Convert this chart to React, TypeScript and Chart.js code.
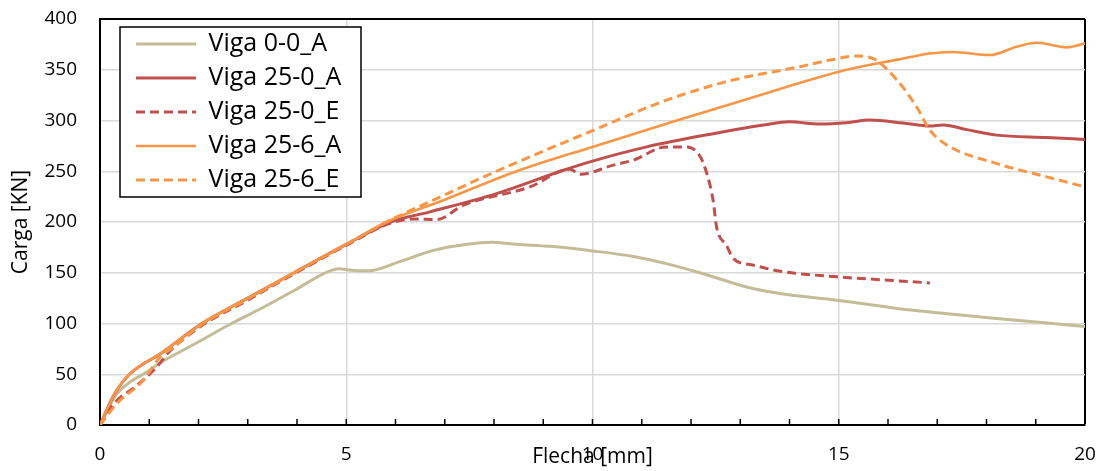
import React, { useEffect, useRef } from 'react';
import { Chart, registerables } from 'chart.js';

Chart.register(...registerables);

const FONT = "'Open Sans', 'DejaVu Sans', sans-serif";

// Series names (legend order)
const seriesLabels = ['Viga 0-0_A', 'Viga 25-0_A', 'Viga 25-0_E', 'Viga 25-6_A', 'Viga 25-6_E'];
const seriesColors = ['#C4BC96', '#C0504D', '#C0504D', '#F79646', '#F79646'];

// Axis ticks
const xTickValues = [0, 5, 10, 15, 20];
const yTickValues = [0, 50, 100, 150, 200, 250, 300, 350, 400];

// Viga 0-0_A
const x00A = [0, 0.3, 0.6, 0.91, 1.25, 1.93, 2.67, 3.28, 3.96, 4.63, 4.85, 5.1, 5.45, 6.09, 6.77, 7.45, 7.95, 8.46, 9.14, 10.0, 10.83, 11.5, 12.25, 13.13, 13.81, 14.96, 16.51, 17.87, 20];
const y00A = [0, 28, 42, 51, 62, 80, 100, 115, 133, 151, 154, 152.5, 152, 161, 172, 178, 180, 178, 176, 171.5, 166, 159, 149, 136, 129.5, 123, 113, 106.5, 97];

// Viga 25-0_A
const x250A = [0, 0.3, 0.6, 1.25, 2.07, 3.0, 3.94, 5.0, 5.9, 6.7, 8.05, 9.41, 10.0, 11.1, 12.45, 13.47, 14.0, 14.62, 15.16, 15.63, 16.3, 16.85, 17.12, 17.6, 18.2, 19.22, 20];
const y250A = [0, 31, 50, 71, 100, 125, 150, 178, 200, 210, 228, 251, 260, 274, 287, 295.5, 298.7, 296.5, 297.8, 300.4, 297.5, 294.5, 295.5, 291, 285.6, 283.3, 281.4];

// Viga 25-0_E
const x250E = [0, 0.3, 0.71, 1.15, 1.4, 2.07, 3.0, 3.94, 5.0, 5.9, 6.4, 6.84, 7.38, 8.73, 9.54, 9.75, 10.42, 10.83, 11.5, 11.91, 12.18, 12.32, 12.45, 12.52, 12.72, 12.86, 13.27, 13.81, 14.96, 15.9, 16.85];
const y250E = [0, 22, 37.5, 57, 72, 98, 123, 149, 177, 199, 203, 202.5, 216.6, 234.6, 252, 247, 256, 261, 274, 274, 265, 248, 221, 195, 177, 164, 157.4, 151.5, 146, 143, 140];

// Viga 25-6_A
const x256A = [0, 0.3, 0.6, 1.25, 2.07, 3.0, 3.94, 5.0, 5.82, 7.0, 8.46, 10.0, 11.71, 13.0, 15.16, 16.2, 16.85, 17.3, 18.07, 18.61, 19.02, 19.63, 20];
const y256A = [0, 31, 50, 71, 100, 125, 150, 178, 200, 222, 250, 274, 300, 319, 350, 360, 366, 367.5, 364.5, 372.7, 376.6, 372, 376];

// Viga 25-6_E
const x256E = [0, 0.34, 0.88, 1.22, 1.5, 2.07, 3.0, 3.94, 5.0, 5.9, 6.7, 8.05, 10.0, 11.5, 12.86, 14.21, 14.82, 15.36, 15.7, 16.18, 16.58, 16.85, 17.19, 18.2, 19.22, 20];
const y256E = [0, 21, 44, 67, 77, 99, 124, 150, 178, 202, 220, 250, 290, 320, 340, 353, 359.6, 363.5, 361, 340, 313.5, 290.5, 276, 257.7, 244.5, 234.6];

const seriesX = [x00A, x250A, x250E, x256A, x256E];
const seriesY = [y00A, y250A, y250E, y256A, y256E];
const seriesDash = [[], [], [9, 5], [], [9, 5]];
const seriesWidth = [3, 3, 3, 2.6, 3];
const seriesOrder = [4, 2, 3, 0, 1];

const framePlugin = {
  id: 'frameAndLegend',
  beforeDraw(chart: any) {
    const lg = chart.legend;
    const ca = chart.chartArea;
    if (lg) {
      const w = lg.width;
      const h = lg.height;
      lg.left = ca.left + 27;
      lg.top = ca.top + 3.5;
      lg.right = lg.left + w;
      lg.bottom = lg.top + h;
    }
  },
  afterDraw(chart: any) {
    const ctx = chart.ctx;
    const ca = chart.chartArea;
    const xs = chart.scales.x;
    ctx.save();
    ctx.strokeStyle = '#000';
    ctx.lineWidth = 1.5;
    for (let v = 1; v < 20; v++) {
      const px = xs.getPixelForValue(v);
      ctx.beginPath();
      ctx.moveTo(px, ca.bottom);
      ctx.lineTo(px, ca.bottom - 6);
      ctx.stroke();
    }
    const bx = ca.left + 20;
    const by = ca.top + 8;
    const bw = 241;
    const bh = 170;
    ctx.fillStyle = '#fff';
    ctx.fillRect(bx, by, bw, bh);
    ctx.strokeStyle = '#000';
    ctx.lineWidth = 1.5;
    ctx.strokeRect(bx, by, bw, bh);
    ctx.restore();
    if (chart.legend) chart.legend.draw();
  },
};

export default function App() {
  const ref = useRef<HTMLCanvasElement | null>(null);

  useEffect(() => {
    if (!ref.current) return;
    const datasets = seriesLabels.map((label, i) => ({
      label,
      data: seriesX[i].map((x, j) => ({ x, y: seriesY[i][j] })),
      borderColor: seriesColors[i],
      backgroundColor: seriesColors[i],
      borderWidth: seriesWidth[i],
      borderDash: seriesDash[i],
      pointRadius: 0,
      pointHoverRadius: 0,
      fill: false,
      cubicInterpolationMode: 'monotone' as const,
      order: seriesOrder[i],
    }));

    const defaultGen = (Chart as any).defaults.plugins.legend.labels.generateLabels;

    const chart = new Chart(ref.current, {
      type: 'line',
      data: { datasets },
      options: {
        animation: false,
        responsive: false,
        devicePixelRatio: 1,
        layout: { padding: { left: 0, top: 19, right: 17, bottom: 0 } },
        plugins: {
          tooltip: { enabled: false },
          legend: {
            position: 'chartArea' as any,
            align: 'start',
            labels: {
              usePointStyle: true,
              pointStyle: 'line',
              pointStyleWidth: 60,
              padding: 9,
              color: '#000',
              font: { family: FONT, size: 25 },
              sort: (a: any, b: any) => a.datasetIndex - b.datasetIndex,
              generateLabels: (c: any) =>
                defaultGen(c).map((item: any) => {
                  const ds = c.data.datasets[item.datasetIndex];
                  return {
                    ...item,
                    lineDash: ds.borderDash,
                    lineWidth: ds.borderWidth,
                    strokeStyle: ds.borderColor,
                    fillStyle: ds.borderColor,
                    pointStyle: 'line',
                  };
                }),
            },
          },
        },
        scales: {
          x: {
            type: 'linear',
            min: 0,
            max: 20,
            afterBuildTicks: (scale: any) => {
              scale.ticks = xTickValues.map((v) => ({ value: v }));
            },
            ticks: {
              color: '#000',
              padding: 18,
              font: { family: FONT, size: 19 },
              maxRotation: 0,
            },
            grid: {
              drawTicks: false,
              color: (c: any) => (c.tick && c.tick.value === 20 ? '#000' : c.tick && c.tick.value === 0 ? 'rgba(0,0,0,0)' : '#d9d9d9'),
              lineWidth: (c: any) => (c.tick && c.tick.value === 20 ? 2 : 1.5),
            },
            border: { color: '#000', width: 2 },
            title: {
              display: true,
              text: 'Flecha [mm]',
              color: '#000',
              font: { family: FONT, size: 21 },
              padding: { top: 0, bottom: 1 },
            },
            afterFit: (scale: any) => {
              scale.height = 46;
              scale.paddingLeft = 0;
              scale.paddingRight = 0;
            },
          },
          y: {
            type: 'linear',
            min: 0,
            max: 400,
            afterBuildTicks: (scale: any) => {
              scale.ticks = yTickValues.map((v) => ({ value: v }));
            },
            ticks: {
              color: '#000',
              padding: 23,
              font: { family: FONT, size: 19 },
            },
            grid: {
              drawTicks: false,
              color: (c: any) => (c.tick && c.tick.value === 400 ? '#000' : '#d9d9d9'),
              lineWidth: (c: any) => (c.tick && c.tick.value === 400 ? 2 : 1.5),
            },
            border: { color: '#000', width: 2 },
            title: {
              display: true,
              text: 'Carga [KN]',
              color: '#000',
              font: { family: FONT, size: 21 },
              padding: { top: 8, bottom: 0 },
            },
            afterFit: (scale: any) => {
              scale.width = 100;
              scale.paddingTop = 0;
              scale.paddingBottom = 0;
            },
          },
        },
      },
      plugins: [framePlugin],
    });
    return () => chart.destroy();
  }, []);

  return (
    <div style={{ position: 'fixed', left: 0, top: 0, width: 1102, height: 471, background: '#fff' }}>
      <canvas ref={ref} width={1102} height={471} />
    </div>
  );
}
